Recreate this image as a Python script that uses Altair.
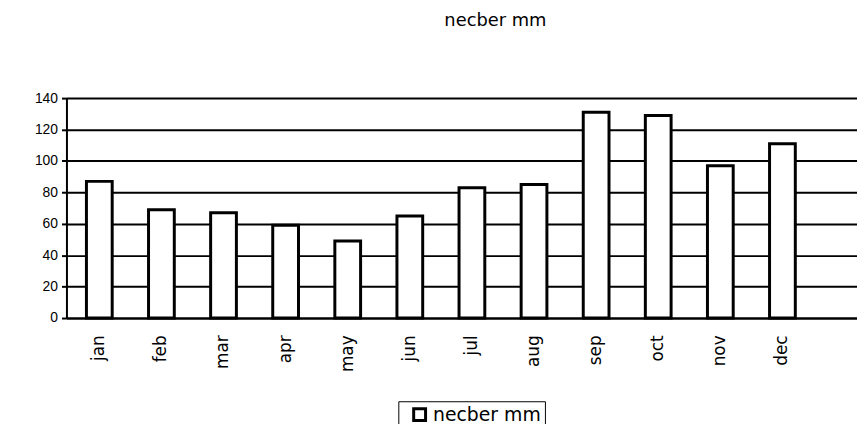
import altair as alt
import pandas as pd

months = ["jan", "feb", "mar", "apr", "may", "jun", "jul", "aug", "sep", "oct", "nov", "dec"]
values = [87, 69, 67, 59, 49, 65, 83, 85, 131, 129, 97, 111]
y_ticks = [0, 20, 40, 60, 80, 100, 120, 140]
series_name = "necber mm"

df = pd.DataFrame({"month": months, "value": values, "series": [series_name] * len(months)})

FONT = "Liberation Sans"
WIDE = "DejaVu Sans"

chart = alt.Chart(df).mark_bar(
    size=26, stroke="black", strokeWidth=3
).encode(
    x=alt.X("month:N", sort=months, title=None,
            scale=alt.Scale(paddingInner=0, paddingOuter=0.365, align=0.04),
            axis=alt.Axis(labelAngle=270, ticks=False, labelPadding=17,
                          labelFontSize=17, labelColor="black", labelFont=WIDE,
                          domainColor="black", domainWidth=2)),
    y=alt.Y("value:Q", title=None,
            scale=alt.Scale(domain=[0, 140], nice=False),
            axis=alt.Axis(values=y_ticks, grid=True, gridColor="black", gridWidth=2,
                          gridOpacity=1, tickColor="black", tickSize=5, tickWidth=2,
                          labelFontSize=14, labelColor="black", labelFont=FONT,
                          labelPadding=4, domainColor="black", domainWidth=2)),
    color=alt.Color("series:N", scale=alt.Scale(range=["white"]),
                    legend=alt.Legend(title=None, orient="none", legendX=335, legendY=306,
                                      symbolType="square", symbolSize=144,
                                      symbolStrokeColor="black", symbolStrokeWidth=3,
                                      symbolFillColor="white", symbolOffset=8,
                                      labelOffset=4,
                                      labelFontSize=19, labelFont=WIDE, labelColor="black",
                                      strokeColor="black", padding=4)),
).properties(
    width=798,
    height=222,
    title=alt.TitleParams(series_name, fontSize=18, fontWeight="normal", font=WIDE,
                          color="black", anchor="middle", dx=34, offset=62),
    autosize=alt.AutoSizeParams(type="none"),
    padding={"left": 59, "top": 89, "right": 0, "bottom": 105},
).configure_view(stroke=None).configure(background="white")

chart.save("out.html", embed_options={"renderer": "svg", "actions": False})
